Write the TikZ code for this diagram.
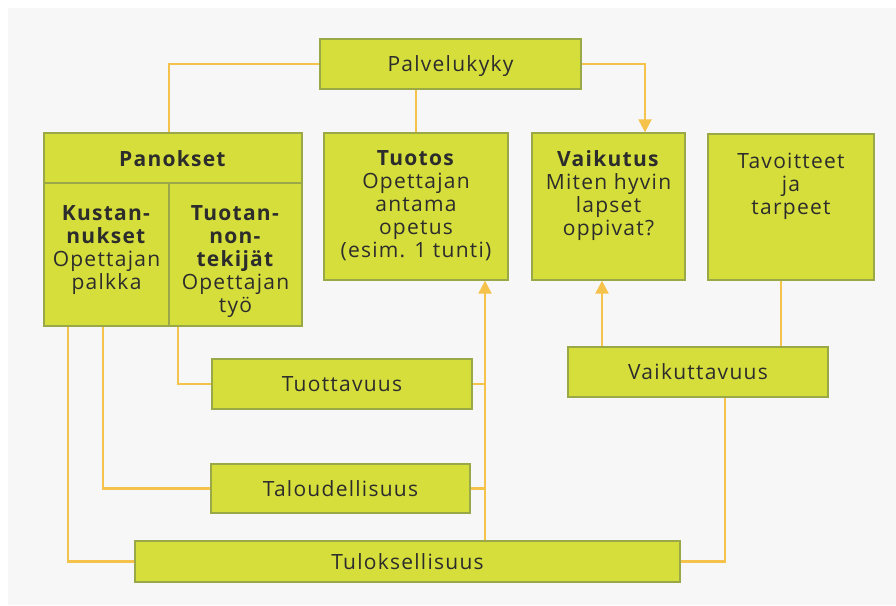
\documentclass[tikz,border=0pt]{standalone}
\usepackage{fontspec}
\setmainfont{Open Sans}[LetterSpace=6]
\usetikzlibrary{arrows.meta}
\definecolor{boxfill}{HTML}{D6DE3C}
\definecolor{boxline}{HTML}{9AA848}
\definecolor{connc}{HTML}{F5C24C}
\definecolor{txt}{HTML}{2C2C2C}
\definecolor{bg}{HTML}{F7F7F8}
\begin{document}
\begin{tikzpicture}[x=1pt,y=-1pt,
  font=\fontsize{21}{23}\selectfont,
  box/.style={draw=boxline,fill=boxfill,line width=1.3pt,inner sep=0pt},
  lbl/.style={text=txt,inner sep=0pt,text height=15pt,text depth=0pt},
  ml/.style={text=txt,inner sep=0pt,align=center,anchor=north},
  conn/.style={draw=connc,line width=2.2pt},
  arr/.style={conn,-{Triangle[width=13pt,length=13pt]}}]
\useasboundingbox (0,0) rectangle (896,605);
\fill[white] (0,0) rectangle (896,605);
\fill[bg] (8,8) rectangle (896,605);

% boxes
\node[box,lbl,minimum width=261,minimum height=50] (pal) at (450.5,64) {Palvelukyky};
\node[box,minimum width=258,minimum height=193] (pan) at (173,229.5) {};
\node[box,minimum width=184,minimum height=147] (tuo) at (416,206.5) {};
\node[box,minimum width=153,minimum height=147] (vai) at (608.5,206.5) {};
\node[box,minimum width=166,minimum height=146] (tav) at (791,207) {};
\node[box,lbl,minimum width=260,minimum height=50] (tuot) at (342,384) {Tuottavuus};
\node[box,lbl,minimum width=259,minimum height=49] (tal) at (340.5,488.5) {Taloudellisuus};
\node[box,lbl,minimum width=545,minimum height=41] (tul) at (407.5,561.5) {Tuloksellisuus};
\node[box,lbl,minimum width=260,minimum height=50] (vak) at (698,372) {Vaikuttavuus};

% Panokset dividers
\draw[boxline,line width=1.3pt] (pan.west |- 0,183) -- (pan.east |- 0,183);
\draw[boxline,line width=1.3pt] ([xshift=-4]pan.south) -- ([xshift=-4,yshift=143]pan.south);

% texts
\node[lbl,anchor=base] (panT) at (173,166) {\textbf{Panokset}};
\node[ml] (kusT) at (106.5,205) {\textbf{Kustan-}\\\textbf{nukset}\\Opettajan\\palkka};
\node[ml] (tekT) at (235.5,205) {\textbf{Tuotan-}\\\textbf{non-}\\\textbf{tekijät}\\Opettajan\\työ};
\node[ml] (tuoT) at (416,150) {\textbf{Tuotos}\\Opettajan\\antama\\opetus\\(esim. 1 tunti)};
\node[ml] (vaiT) at (608.5,150) {\textbf{Vaikutus}\\Miten hyvin\\lapset\\oppivat?};
\node[ml] (tavT) at (791,153) {Tavoitteet\\ja\\tarpeet};

% connectors
\coordinate (tuoA) at ([xshift=69]tuo.south);
\coordinate (vaiA) at ([xshift=-6.5]vai.south);
\coordinate (tavA) at ([xshift=-10]tav.south);
\draw[conn] ([xshift=-4]pan.north) |- (pal.west);
\draw[conn] (pal.south -| tuo.north) -- (tuo.north);
\draw[arr] (pal.east) -| ([xshift=36.5]vai.north);
\draw[arr] (tul.north -| tuoA) -- (tuoA);
\draw[conn] (tuot.east) -- (tuot.east -| tuoA);
\draw[conn] (tal.east) -- (tal.east -| tuoA);
\draw[arr] (vak.north -| vaiA) -- (vaiA);
\draw[conn] (tavA) -- (tavA |- vak.north);
\draw[conn] ([xshift=27]vak.south) |- (tul.east);
\draw[conn] ([xshift=5]pan.south) |- (tuot.west);
\draw[conn] ([xshift=-70]pan.south) |- (tal.west);
\draw[conn] ([xshift=-105]pan.south) |- (tul.west);
\end{tikzpicture}
\end{document}
